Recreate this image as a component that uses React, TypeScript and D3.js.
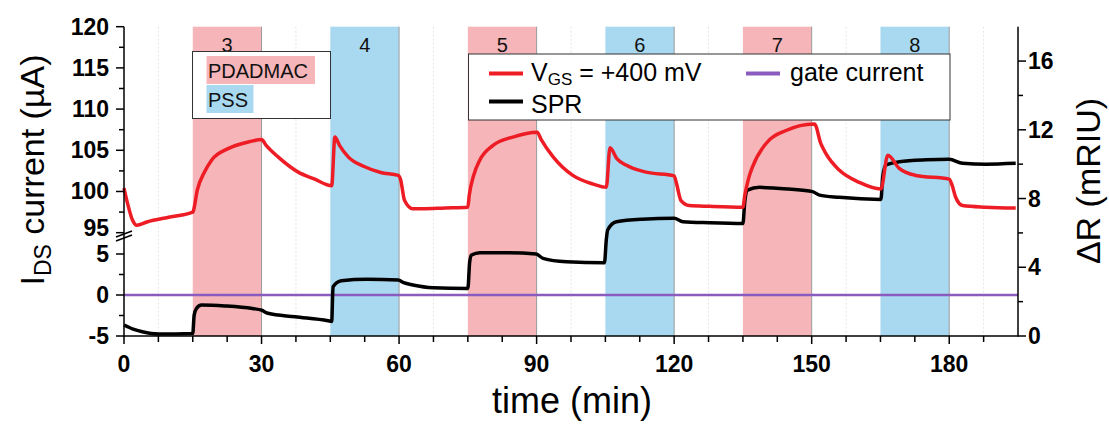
import React from "react";
import * as d3 from "d3";

// ---- data ----
const redT = [0, 0.8, 1.8, 2.8, 5, 10, 15, 15.1, 16, 17.5, 19.1, 22.7, 27.1, 30, 31, 33.6, 38, 41.6, 45.3, 46, 47, 48.9, 52.5, 56, 59.8, 60.3, 61.2, 63, 65, 70, 75, 75.3, 76.3, 77.6, 80.5, 84.8, 90.1, 91, 93.6, 97.9, 102.3, 105.2, 106, 107.5, 109.5, 113.9, 120, 120.5, 121.5, 123.3, 127.7, 135, 135.4, 136.2, 137.1, 140, 144.4, 150.6, 152, 153.1, 156, 160.4, 165.1, 166.6, 169.1, 172.7, 180, 180.6, 181.4, 182.9, 188, 194.5];
const redV = [100.4, 98.5, 96.6, 95.9, 96.3, 96.9, 97.5, 97.6, 100.2, 102.3, 103.8, 105.2, 106.0, 106.3, 105.6, 104.2, 102.35, 101.5, 100.7, 106.6, 105.6, 104.2, 103.0, 102.3, 101.95, 101.5, 98.9, 97.9, 97.9, 98.0, 98.1, 99.5, 102.0, 103.8, 105.6, 106.6, 107.2, 106.3, 104.2, 101.95, 100.9, 100.5, 105.3, 104.0, 103.2, 102.35, 101.9, 101.0, 98.9, 98.3, 98.2, 98.1, 99.5, 101.5, 103.0, 105.8, 107.4, 108.2, 105.8, 104.6, 102.6, 101.1, 100.3, 104.4, 102.8, 101.95, 101.5, 100.8, 99.3, 98.3, 98.1, 98.0];

const sprT = [0, 2, 4, 7.5, 15, 15.3, 15.8, 16.9, 22, 28, 30, 31.4, 37.3, 44.5, 45.3, 45.6, 47.4, 53, 59.8, 61, 63, 67.4, 75, 75.4, 75.8, 77.6, 84, 89.9, 91.4, 96.5, 104.8, 105.2, 105.5, 107.4, 113, 120, 121.9, 127.7, 135, 135.4, 136, 138.6, 145, 150.2, 151.7, 156, 165.1, 165.5, 166.2, 169.1, 175, 180, 182.9, 188, 194.5];
const sprR = [0.64, 0.4, 0.25, 0.12, 0.15, 1.2, 1.6, 1.8, 1.75, 1.6, 1.5, 1.32, 1.12, 0.89, 0.85, 2.87, 3.22, 3.3, 3.26, 3.1, 2.97, 2.81, 2.77, 4.3, 4.71, 4.85, 4.85, 4.77, 4.52, 4.32, 4.26, 5.6, 6.17, 6.65, 6.8, 6.85, 6.65, 6.59, 6.55, 7.8, 8.49, 8.65, 8.55, 8.4, 8.2, 8.07, 7.95, 9.3, 9.95, 10.14, 10.25, 10.28, 10.05, 10.0, 10.05];

const gateT = [0, 195];
const gateV = [0, 0];

const stepLabels = ["3", "4", "5", "6", "7", "8"];
const stepStart = [15, 45, 75, 105, 135, 165];
const stepEnd = [30, 60, 90, 120, 150, 180];
const stepKind = ["PDADMAC", "PSS", "PDADMAC", "PSS", "PDADMAC", "PSS"];

const xTicksMajor = [0, 30, 60, 90, 120, 150, 180];
const xTicksMinor = [7.5, 15, 22.5, 37.5, 45, 52.5, 67.5, 75, 82.5, 97.5, 105, 112.5, 127.5, 135, 142.5, 157.5, 165, 172.5, 187.5];
const gridX = [7.5, 37.5, 67.5, 97.5, 127.5, 157.5, 187.5];
const yUpMajor = [95, 100, 105, 110, 115, 120];
const yUpMinor = [97.5, 102.5, 107.5, 112.5, 117.5];
const yLoMajor = [-5, 0, 5];
const yLoMinor = [-2.5, 2.5];
const yRMajor = [0, 4, 8, 12, 16];
const yRMinor = [2, 6, 10, 14];

const PINK = "#F5B5B9";
const BLUE = "#A9D9F1";
const RED = "#EE1C24";
const PURPLE = "#8A5CC0";
const FONT = "'Liberation Sans', Arial, sans-serif";

export default function App() {
  const x = d3.scaleLinear().domain([0, 195]).range([124, 1018]);
  const yUp = d3.scaleLinear().domain([94.5, 120]).range([236.8, 26.7]);
  const yLo = d3.scaleLinear().domain([-5, 6]).range([336, 245.8]);
  const yR = d3.scaleLinear().domain([0, 18]).range([336, 26.7]);
  const top = yUp(120);
  const bottom = yLo(-5);
  const left = x(0);
  const right = x(195);

  const redLine = d3
    .line<number>()
    .x((_, i) => x(redT[i]))
    .y((v) => yUp(v))
    .curve(d3.curveMonotoneX)(redV) as string;
  const sprLine = d3
    .line<number>()
    .x((_, i) => x(sprT[i]))
    .y((v) => yR(v))
    .curve(d3.curveMonotoneX)(sprR) as string;
  const gateLine = d3
    .line<number>()
    .x((_, i) => x(gateT[i]))
    .y((v) => yLo(v))(gateV) as string;

  const tickLabel = { fontFamily: FONT, fontWeight: 700, fontSize: 23, fill: "#000" } as const;
  const upShift = (v: number) => (v === 95 ? 3 : 8);

  return (
    <svg width={1109} height={424} style={{ position: "absolute", left: 0, top: 0, background: "#fff" }}>
      <rect x={0} y={0} width={1109} height={424} fill="#fff" />
      {/* grid */}
      {gridX.map((t) => (
        <line key={"g" + t} x1={x(t)} x2={x(t)} y1={top} y2={bottom} stroke="#e4e4e4" strokeWidth={1} strokeDasharray="2,2" />
      ))}
      {/* step rects */}
      {stepStart.map((s, i) => (
        <g key={"r" + i}>
          <rect x={x(s)} y={top} width={x(stepEnd[i]) - x(s)} height={bottom - top} fill={stepKind[i] === "PSS" ? BLUE : PINK} />
          <line x1={x(stepEnd[i])} x2={x(stepEnd[i])} y1={top} y2={bottom} stroke="#9a9a9a" strokeWidth={1} />
          <text x={(x(s) + x(stepEnd[i])) / 2} y={52} textAnchor="middle" fontFamily={FONT} fontSize={20} fill="#111">
            {stepLabels[i]}
          </text>
        </g>
      ))}
      {/* data */}
      <path d={gateLine} fill="none" stroke={PURPLE} strokeWidth={2.5} />
      <path d={sprLine} fill="none" stroke="#000" strokeWidth={3.5} strokeLinejoin="round" />
      <path d={redLine} fill="none" stroke={RED} strokeWidth={3.5} strokeLinejoin="round" />

      {/* legend 1 */}
      <rect x={192.5} y={51.5} width={138} height={67} fill="#fff" stroke="#333" strokeWidth={1} />
      <rect x={206.5} y={56} width={108.5} height={28} fill={PINK} />
      <rect x={206.5} y={85} width={47} height={28} fill={BLUE} />
      <text x={208} y={78} fontFamily={FONT} fontSize={20} fill="#111">PDADMAC</text>
      <text x={208} y={106.5} fontFamily={FONT} fontSize={20} fill="#111">PSS</text>

      {/* legend 2 */}
      <rect x={468.5} y={54} width={481.5} height={66} fill="#fff" stroke="#333" strokeWidth={1} />
      <line x1={489} x2={523} y1={73.5} y2={73.5} stroke={RED} strokeWidth={4} />
      <text x={531} y={81} fontFamily={FONT} fontSize={25} fill="#000">
        V<tspan fontSize={17} dy={4}>GS</tspan><tspan dy={-4}> = +400 mV</tspan>
      </text>
      <line x1={489} x2={523} y1={101.5} y2={101.5} stroke="#000" strokeWidth={4} />
      <text x={531} y={113} fontFamily={FONT} fontSize={25} fill="#000">SPR</text>
      <line x1={746} x2={780} y1={73.5} y2={73.5} stroke={PURPLE} strokeWidth={4} />
      <text x={790} y={81} fontFamily={FONT} fontSize={25} fill="#000">gate current</text>

      {/* axes */}
      <g stroke="#000" strokeWidth={1.5}>
        <line x1={left} x2={left} y1={top} y2={bottom + 0.75} />
        <line x1={right} x2={right} y1={top} y2={bottom + 0.75} />
        <line x1={left} x2={right} y1={bottom} y2={bottom} />
        {xTicksMajor.map((t) => (
          <line key={"xm" + t} x1={x(t)} x2={x(t)} y1={bottom} y2={bottom + 8} />
        ))}
        {xTicksMinor.map((t) => (
          <line key={"xn" + t} x1={x(t)} x2={x(t)} y1={bottom} y2={bottom + 6} />
        ))}
        {yUpMajor.map((v) => (
          <line key={"um" + v} x1={left - 8} x2={left} y1={yUp(v)} y2={yUp(v)} />
        ))}
        {yUpMinor.map((v) => (
          <line key={"un" + v} x1={left - 5} x2={left} y1={yUp(v)} y2={yUp(v)} />
        ))}
        {yLoMajor.map((v) => (
          <line key={"lm" + v} x1={left - 8} x2={left} y1={yLo(v)} y2={yLo(v)} />
        ))}
        {yLoMinor.map((v) => (
          <line key={"ln" + v} x1={left - 5} x2={left} y1={yLo(v)} y2={yLo(v)} />
        ))}
        {yRMajor.map((v) => (
          <line key={"rm" + v} x1={right} x2={right + 8} y1={yR(v)} y2={yR(v)} />
        ))}
        {yRMinor.map((v) => (
          <line key={"rn" + v} x1={right} x2={right + 5} y1={yR(v)} y2={yR(v)} />
        ))}
        {/* axis break marks */}
        <line x1={116} x2={132} y1={237} y2={231} />
        <line x1={116} x2={132} y1={241} y2={235} />
      </g>

      {xTicksMajor.map((t) => (
        <text key={"xl" + t} x={x(t)} y={372} textAnchor="middle" {...tickLabel}>{t}</text>
      ))}
      {yUpMajor.map((v) => (
        <text key={"ul" + v} x={109} y={yUp(v) + upShift(v)} textAnchor="end" {...tickLabel}>{v}</text>
      ))}
      {yLoMajor.map((v) => (
        <text key={"ll" + v} x={109} y={yLo(v) + 8} textAnchor="end" {...tickLabel}>{v}</text>
      ))}
      {yRMajor.map((v) => (
        <text key={"rl" + v} x={1028} y={yR(v) + 8} textAnchor="start" {...tickLabel}>{v}</text>
      ))}

      {/* titles */}
      <text x={572} y={413} textAnchor="middle" fontFamily={FONT} fontSize={36} fill="#000">time (min)</text>
      <text transform="translate(44,170) rotate(-90)" textAnchor="middle" fontFamily={FONT} fontSize={34} fill="#000">
        I<tspan fontSize={23} dy={7}>DS</tspan><tspan dy={-7}> current (µA)</tspan>
      </text>
      <text transform="translate(1100,181) rotate(-90)" textAnchor="middle" fontFamily={FONT} fontSize={34} fill="#000">
        ΔR (mRIU)
      </text>
    </svg>
  );
}
